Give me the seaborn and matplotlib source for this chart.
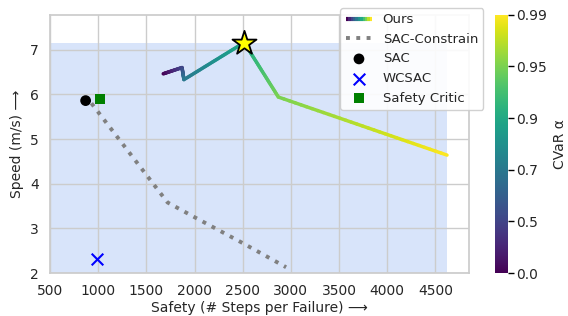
import numpy as np
import matplotlib
matplotlib.use("Agg")
import matplotlib.pyplot as plt
import seaborn as sns
from matplotlib.collections import LineCollection
from matplotlib.legend_handler import HandlerBase
from matplotlib.lines import Line2D

# Data
alphas = ["0.0", "0.5", "0.7", "0.9", "0.95", "0.99"]
ours_safety = [1675, 1870, 1890, 2515, 2870, 4620]
ours_speed = [6.46, 6.60, 6.33, 7.16, 5.94, 4.64]

sac_constrain_safety = [930, 1720, 2000, 2500, 2950]
sac_constrain_speed = [5.80, 3.58, 3.25, 2.67, 2.13]

sac_safety, sac_speed = [870], [5.86]
wcsac_safety, wcsac_speed = [990], [2.32]
critic_safety, critic_speed = [1020], [5.90]

sns.set_theme(style="whitegrid")
plt.rcParams["font.family"] = ["DejaVu Sans"]

fig = plt.figure(figsize=(5.68, 3.16), dpi=100)
ax = fig.add_axes([0.088, 0.136, 0.738, 0.817])
cax = fig.add_axes([0.872, 0.136, 0.022, 0.817])

cmap = plt.get_cmap("viridis")
norm = plt.Normalize(0, len(alphas) - 1)

# shaded region dominated by our best point
ax.fill_between([500, max(ours_safety)], 2, max(ours_speed),
                color="cornflowerblue", alpha=0.25, linewidth=0, zorder=0)

# gradient line: subdivide each segment only for colouring
pts, vals = [], []
for i in range(len(ours_safety) - 1):
    for t in np.linspace(0, 1, 30, endpoint=False):
        pts.append((ours_safety[i] + t * (ours_safety[i + 1] - ours_safety[i]),
                    ours_speed[i] + t * (ours_speed[i + 1] - ours_speed[i])))
        vals.append(i + t)
pts.append((ours_safety[-1], ours_speed[-1]))
vals.append(len(ours_safety) - 1)
pts = np.array(pts)
segs = np.stack([pts[:-1], pts[1:]], axis=1)
lc = LineCollection(segs, cmap=cmap, norm=norm, linewidth=2.5, capstyle="round", zorder=3)
lc.set_array(np.array(vals[:-1]))
ax.add_collection(lc)

best = int(np.argmax(ours_speed))
ax.scatter([ours_safety[best]], [ours_speed[best]], marker="*", s=330,
           color="yellow", edgecolor="black", linewidth=1.3, zorder=5)

sns.lineplot(x=sac_constrain_safety, y=sac_constrain_speed, sort=False, ax=ax,
             color="gray", linestyle=":", linewidth=2.8, label="SAC-Constrain")
sns.scatterplot(x=sac_safety, y=sac_speed, ax=ax, color="black", s=60,
                marker="o", edgecolor="none", label="SAC", zorder=4)
sns.scatterplot(x=wcsac_safety, y=wcsac_speed, ax=ax, color="blue", s=70,
                marker="x", linewidth=1.5, label="WCSAC", zorder=4)
sns.scatterplot(x=critic_safety, y=critic_speed, ax=ax, color="green", s=50,
                marker="s", edgecolor="none", label="Safety Critic", zorder=4)

ax.set_xlim(500, 4850)
ax.set_ylim(2, 7.78)
ax.set_xticks(range(500, 5000, 500))
ax.set_yticks(range(2, 8))
ax.set_xlabel("Safety (# Steps per Failure) \u27f6", fontsize=10, labelpad=2)
ax.set_ylabel("Speed (m/s) \u27f6", fontsize=10)
ax.tick_params(labelsize=10, pad=2)


class GradientHandler(HandlerBase):
    def create_artists(self, legend, orig, xd, yd, w, h, fontsize, trans):
        xs = np.linspace(xd, xd + w, 12)
        y = yd + h / 2
        s = [[(xs[k], y), (xs[k + 1], y)] for k in range(len(xs) - 1)]
        c = LineCollection(s, cmap=cmap, norm=plt.Normalize(0, len(s) - 1),
                           linewidth=3, transform=trans)
        c.set_array(np.arange(len(s)))
        return [c]


handles, labels = ax.get_legend_handles_labels()
ours_handle = Line2D([], [])
ax.legend([ours_handle] + handles, ["Ours"] + labels,
          handler_map={ours_handle: GradientHandler()},
          loc="upper right", bbox_to_anchor=(0.851, 0.975),
          bbox_transform=fig.transFigure, borderaxespad=0, fontsize=9.5,
          framealpha=0.9)

sm = plt.cm.ScalarMappable(cmap=cmap, norm=norm)
cb = fig.colorbar(sm, cax=cax)
cb.set_ticks(range(len(alphas)))
cb.set_ticklabels(alphas)
cb.outline.set_visible(False)
cax.tick_params(length=4, width=1, labelsize=10, pad=2, color="black", right=True)
cb.set_label("CVaR \u03b1", fontsize=10)

fig.savefig("out.png", dpi=100)
